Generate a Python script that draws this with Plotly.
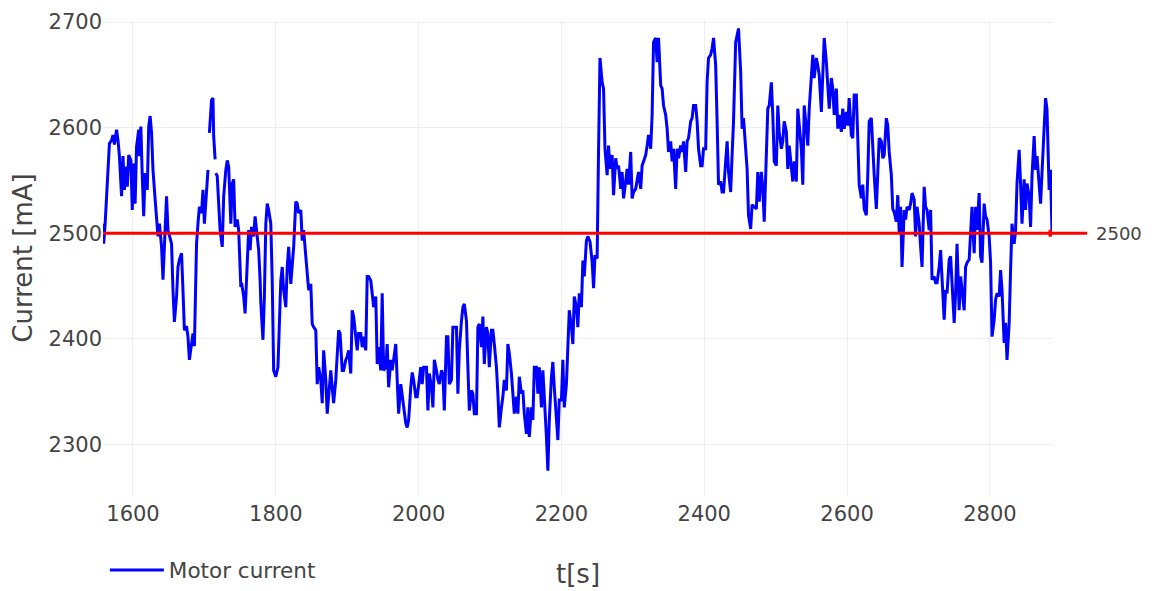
import plotly.graph_objects as go

# ---- data ----
time_s = [
    1558, 1559, 1561, 1567, 1570, 1572, 1574, 1577, 1579, 1581,
    1584, 1586, 1588, 1591, 1592, 1594, 1597, 1599, 1601, 1603,
    1605, 1608, 1609, 1611, 1613, 1615, 1617, 1620, 1622, 1624,
    1626, 1628, 1631, 1633, 1635, 1637, 1640, 1642, 1644, 1647,
    1649, 1651, 1654, 1656, 1658, 1661, 1663, 1665, 1668, 1670,
    1672, 1675, 1677, 1679, 1682, 1684, 1686, 1689, 1691, 1693,
    1696, 1698, 1700, 1703, 1705,
    1706,
    1707, 1710, 1712, 1713, 1715,
    1715.5,
    1716, 1718, 1720, 1722, 1725, 1727, 1730, 1732, 1734, 1737,
    1739, 1741, 1743, 1746, 1748, 1751, 1752, 1755, 1757, 1760,
    1762, 1764, 1766, 1769, 1771, 1773, 1776, 1778, 1779, 1782,
    1784, 1786, 1788,
    1790, 1793, 1795, 1797, 1800, 1803, 1807, 1809, 1811, 1814,
    1816, 1818, 1821, 1823, 1825, 1828, 1830, 1832, 1835, 1837,
    1839, 1842, 1844, 1846, 1849, 1851, 1853, 1856, 1858, 1860,
    1863, 1865, 1867, 1870, 1872, 1874, 1877, 1879, 1881, 1884,
    1886, 1888, 1890, 1893, 1895, 1898, 1900, 1902, 1905, 1907,
    1909, 1912, 1914, 1916, 1919, 1921, 1923, 1926, 1928, 1930,
    1933, 1935, 1937, 1940, 1942, 1944, 1947, 1949, 1951, 1954,
    1956, 1958, 1961, 1963, 1965, 1968, 1970, 1972, 1975, 1977,
    1979, 1982, 1984, 1986, 1989, 1991, 1993, 1996, 1998, 2000,
    2003, 2005, 2007,
    2011, 2013, 2015, 2018, 2020, 2022, 2025, 2027, 2029, 2032,
    2034, 2036, 2039, 2041, 2043, 2046, 2048, 2050, 2053, 2055,
    2057, 2060, 2062, 2064, 2067, 2069, 2071, 2074, 2076, 2078,
    2081, 2083, 2085, 2088, 2090, 2092, 2095, 2097, 2099, 2102,
    2104, 2106, 2109, 2111, 2113, 2116, 2118, 2120, 2123, 2125,
    2127, 2130, 2132, 2134, 2137, 2139, 2141, 2144, 2146, 2148,
    2151, 2153, 2155, 2158, 2160, 2162, 2165, 2167, 2169, 2172,
    2174, 2176, 2179, 2181, 2183, 2186, 2188, 2190, 2193, 2195,
    2197, 2200, 2202, 2204, 2207, 2209, 2211, 2214, 2216, 2218,
    2221, 2223, 2225, 2228, 2230, 2232, 2235, 2237,
    2240, 2243, 2245, 2247, 2250, 2252, 2254, 2257, 2259, 2261,
    2264, 2266, 2268, 2271, 2273, 2276, 2278, 2280, 2283, 2285,
    2287, 2290, 2292, 2294, 2297, 2299, 2301, 2304, 2306, 2308,
    2311, 2313, 2315, 2318, 2320, 2322, 2325, 2327, 2329, 2332,
    2334, 2336, 2339, 2341, 2343, 2346, 2348, 2350, 2353, 2355,
    2357, 2360, 2362, 2364, 2367, 2369, 2371, 2374, 2376, 2378,
    2381, 2383, 2385, 2388, 2390, 2392, 2395, 2397, 2399, 2402,
    2404, 2406, 2409, 2411, 2413, 2416, 2418, 2420, 2423, 2425,
    2427, 2430, 2432, 2434, 2437, 2439, 2441, 2444, 2446, 2448,
    2451, 2453, 2455, 2458, 2460, 2462, 2465, 2467,
    2473, 2475, 2477, 2480, 2482, 2484, 2487, 2489, 2491, 2494,
    2496, 2498, 2501, 2503, 2505, 2508, 2510, 2512, 2515, 2517,
    2519, 2522, 2524, 2526, 2529, 2531, 2533, 2536, 2538, 2540,
    2543, 2545, 2547, 2550, 2552, 2554, 2557, 2559, 2561, 2564,
    2566, 2568, 2571, 2573, 2575, 2578, 2580, 2582, 2585, 2587,
    2589, 2592, 2594, 2596, 2599, 2601, 2603, 2606, 2608, 2610,
    2613, 2615, 2617, 2620, 2622, 2624, 2627, 2629, 2631, 2634,
    2636, 2638, 2641, 2643, 2645, 2648, 2650, 2652, 2655, 2657,
    2659, 2662, 2664, 2666, 2669, 2671, 2673,
    2675, 2677, 2680, 2682, 2684, 2687, 2689, 2691, 2694, 2696,
    2698, 2701, 2703, 2705, 2708, 2710, 2712, 2715, 2717, 2719,
    2722, 2724, 2726, 2729, 2731, 2733, 2736, 2738, 2740, 2743,
    2745, 2747, 2750, 2752, 2754, 2757, 2759, 2761, 2764, 2766,
    2768, 2771, 2773, 2775, 2778, 2780, 2782, 2785, 2787, 2789,
    2792, 2794, 2796, 2799, 2801, 2803, 2806, 2808, 2810, 2813,
    2815, 2817, 2820, 2822, 2824, 2827, 2829, 2831, 2834, 2836,
    2838, 2841, 2843, 2845, 2848, 2850, 2852, 2855, 2857, 2859,
    2862, 2864, 2866, 2869, 2871, 2873, 2876, 2878, 2880, 2883,
    2885, 2887,
]

current_mA = [
    2509, 2490, 2509, 2585, 2588, 2593, 2584, 2598, 2588, 2573,
    2535, 2573, 2541, 2563, 2544, 2574, 2569, 2522, 2566, 2528,
    2582, 2598, 2573, 2601, 2554, 2516, 2557, 2541, 2601, 2611,
    2595, 2560, 2532, 2509, 2497, 2509, 2487, 2456, 2490, 2535,
    2503, 2497, 2490, 2446, 2416, 2440, 2468, 2475, 2481, 2446,
    2408, 2412, 2402, 2380, 2396, 2405, 2393, 2490, 2509, 2525,
    2519, 2541, 2509, 2544, 2560,
    None,
    2595, 2626, 2628, 2592, 2570,
    None,
    2557, 2554, 2528, 2503, 2487, 2535, 2560, 2569, 2563, 2509,
    2547, 2551, 2506, 2513, 2503, 2449, 2453, 2440, 2424, 2475,
    2503, 2484, 2506, 2497, 2516, 2503, 2484, 2456, 2434, 2399,
    2440, 2509, 2528,
    2522, 2509, 2455, 2370, 2364, 2373, 2455, 2468, 2446, 2430,
    2468, 2487, 2452, 2471, 2487, 2530, 2528, 2519, 2522, 2493,
    2503, 2478, 2459, 2446, 2452, 2414, 2411, 2408, 2357, 2373,
    2361, 2339, 2389, 2361, 2329, 2348, 2370, 2354, 2339, 2361,
    2389, 2408, 2405, 2370, 2370, 2380, 2383, 2389, 2367, 2427,
    2421, 2399, 2389, 2405, 2405, 2392, 2402, 2389, 2459, 2459,
    2455, 2443, 2430, 2440, 2376, 2392, 2370, 2443, 2370, 2373,
    2395, 2354, 2380, 2370, 2380, 2395, 2361, 2329, 2357, 2345,
    2339, 2320, 2316, 2323, 2354, 2368, 2361, 2345, 2345, 2357,
    2373, 2357, 2373,
    2373, 2332, 2367, 2354, 2335, 2380, 2370, 2361, 2357, 2370,
    2367, 2332, 2402, 2402, 2357, 2361, 2411, 2411, 2411, 2348,
    2389, 2417, 2430, 2433, 2417, 2373, 2332, 2351, 2348, 2329,
    2329, 2411, 2414, 2392, 2421, 2376, 2411, 2405, 2373, 2408,
    2408, 2395, 2373, 2348, 2316, 2335, 2345, 2361, 2351, 2395,
    2386, 2367, 2348, 2329, 2345, 2329, 2364, 2348, 2351, 2329,
    2310, 2335, 2307, 2335, 2323, 2373, 2373, 2348, 2373, 2335,
    2370, 2348, 2307, 2275, 2323, 2364, 2378, 2354, 2329, 2304,
    2342, 2342, 2380, 2335, 2357, 2392, 2427, 2411, 2395, 2440,
    2430, 2411, 2443, 2430, 2474, 2459, 2493, 2497,
    2492, 2473, 2448, 2479, 2476, 2580, 2666, 2643, 2637, 2580,
    2555, 2583, 2561, 2574, 2536, 2571, 2561, 2564, 2542, 2558,
    2533, 2549, 2561, 2546, 2577, 2533, 2539, 2542, 2549, 2558,
    2542, 2564, 2568, 2574, 2583, 2593, 2580, 2612, 2681, 2685,
    2662, 2685, 2640, 2637, 2621, 2612, 2599, 2577, 2587, 2568,
    2580, 2542, 2580, 2571, 2583, 2577, 2587, 2558, 2587, 2590,
    2606, 2609, 2621, 2621, 2606, 2580, 2564, 2564, 2580, 2580,
    2643, 2666, 2669, 2675, 2685, 2659, 2606, 2546, 2549, 2539,
    2539, 2574, 2587, 2558, 2539, 2574, 2606, 2681, 2688, 2694,
    2653, 2599, 2609, 2580, 2561, 2517, 2504, 2527,
    2523, 2558, 2530, 2558, 2542, 2511, 2580, 2618, 2621, 2643,
    2612, 2568, 2564, 2621, 2596, 2580, 2587, 2606, 2596, 2561,
    2583, 2558, 2549, 2568, 2549, 2618, 2602, 2580, 2546, 2621,
    2599, 2583, 2618, 2650, 2669, 2647, 2666, 2659, 2650, 2615,
    2650, 2685, 2662, 2643, 2618, 2647, 2637, 2612, 2637, 2599,
    2612, 2596, 2618, 2599, 2615, 2602, 2628, 2593, 2590, 2631,
    2631, 2590, 2546, 2533, 2546, 2523, 2517, 2555, 2606, 2609,
    2580, 2555, 2523, 2568, 2590, 2587, 2571, 2574, 2609, 2602,
    2577, 2555, 2523, 2520, 2511, 2536, 2501,
    2525, 2468, 2522, 2513, 2525, 2522, 2528, 2538, 2532, 2497,
    2525, 2509, 2487, 2468, 2544, 2525, 2522, 2503, 2522, 2456,
    2459, 2453, 2453, 2468, 2484, 2453, 2418, 2446, 2443, 2475,
    2478, 2453, 2415, 2443, 2490, 2427, 2459, 2446, 2427, 2468,
    2472, 2475, 2497, 2525, 2481, 2525, 2503, 2538, 2478, 2472,
    2528, 2516, 2513, 2497, 2472, 2402, 2418, 2437, 2443, 2440,
    2465, 2446, 2396, 2415, 2380, 2415, 2465, 2509, 2490, 2503,
    2547, 2579, 2547, 2509, 2551, 2522, 2547, 2535, 2506, 2554,
    2592, 2560, 2573, 2547, 2528, 2557, 2604, 2628, 2617, 2541,
    2560, 2500,
]

threshold_mA = 2500
x_tick_values = [1600, 1800, 2000, 2200, 2400, 2600, 2800]
y_tick_values = [2300, 2400, 2500, 2600, 2700]
y_range = [2251, 2702]
series_name = "Motor current"
x_title = "t[s]"
y_title = "Current [mA]"

FONT = "Verdana, DejaVu Sans, sans-serif"

fig = go.Figure()
fig.add_trace(go.Scatter(
    x=time_s, y=current_mA, mode="lines", name=series_name,
    line=dict(color="#0000ff", width=3), connectgaps=False,
))
fig.add_trace(go.Scatter(
    x=[time_s[-1]], y=[threshold_mA], mode="markers", showlegend=False,
    marker=dict(symbol="square", size=7, color="#ff0000"),
    hoverinfo="skip",
))
fig.add_shape(
    type="line", xref="x domain", yref="y", x0=0, x1=1.037,
    y0=threshold_mA, y1=threshold_mA,
    line=dict(color="#ff0000", width=3),
)
fig.add_annotation(
    xref="x domain", yref="y", x=1.044, y=threshold_mA,
    text=str(threshold_mA), showarrow=False, xanchor="left", yanchor="middle",
    font=dict(family=FONT, size=18, color="#444444"),
)
# x-axis title, placed below the tick labels
fig.add_annotation(
    xref="paper", yref="paper", x=0.5, y=-0.1639,
    text=x_title, showarrow=False, xanchor="center", yanchor="middle",
    font=dict(family=FONT, size=26, color="#444444"),
)

fig.update_layout(
    width=1149, height=583,
    margin=dict(l=95, r=105, t=12, b=95),
    paper_bgcolor="white", plot_bgcolor="white",
    font=dict(family=FONT, size=21, color="#444444"),
    showlegend=True,
    legend=dict(orientation="h", xref="container", yref="container",
                x=0.0843, xanchor="left", y=0.036, yanchor="middle",
                font=dict(size=21.5), itemwidth=54),
)
fig.update_xaxes(
    range=[time_s[0], time_s[-1]], tickvals=x_tick_values, automargin=False,
    showgrid=True, gridcolor="#eeeeee", zeroline=False, showline=False,
    tickfont=dict(size=21), ticklabelstandoff=3,
)
fig.update_yaxes(
    range=y_range, tickvals=y_tick_values, automargin=False,
    showgrid=True, gridcolor="#eeeeee", zeroline=False, showline=False,
    tickfont=dict(size=21), ticklabeloverflow="allow",
    title=dict(text=y_title, font=dict(size=26), standoff=11),
)

fig.write_html("out.html")
